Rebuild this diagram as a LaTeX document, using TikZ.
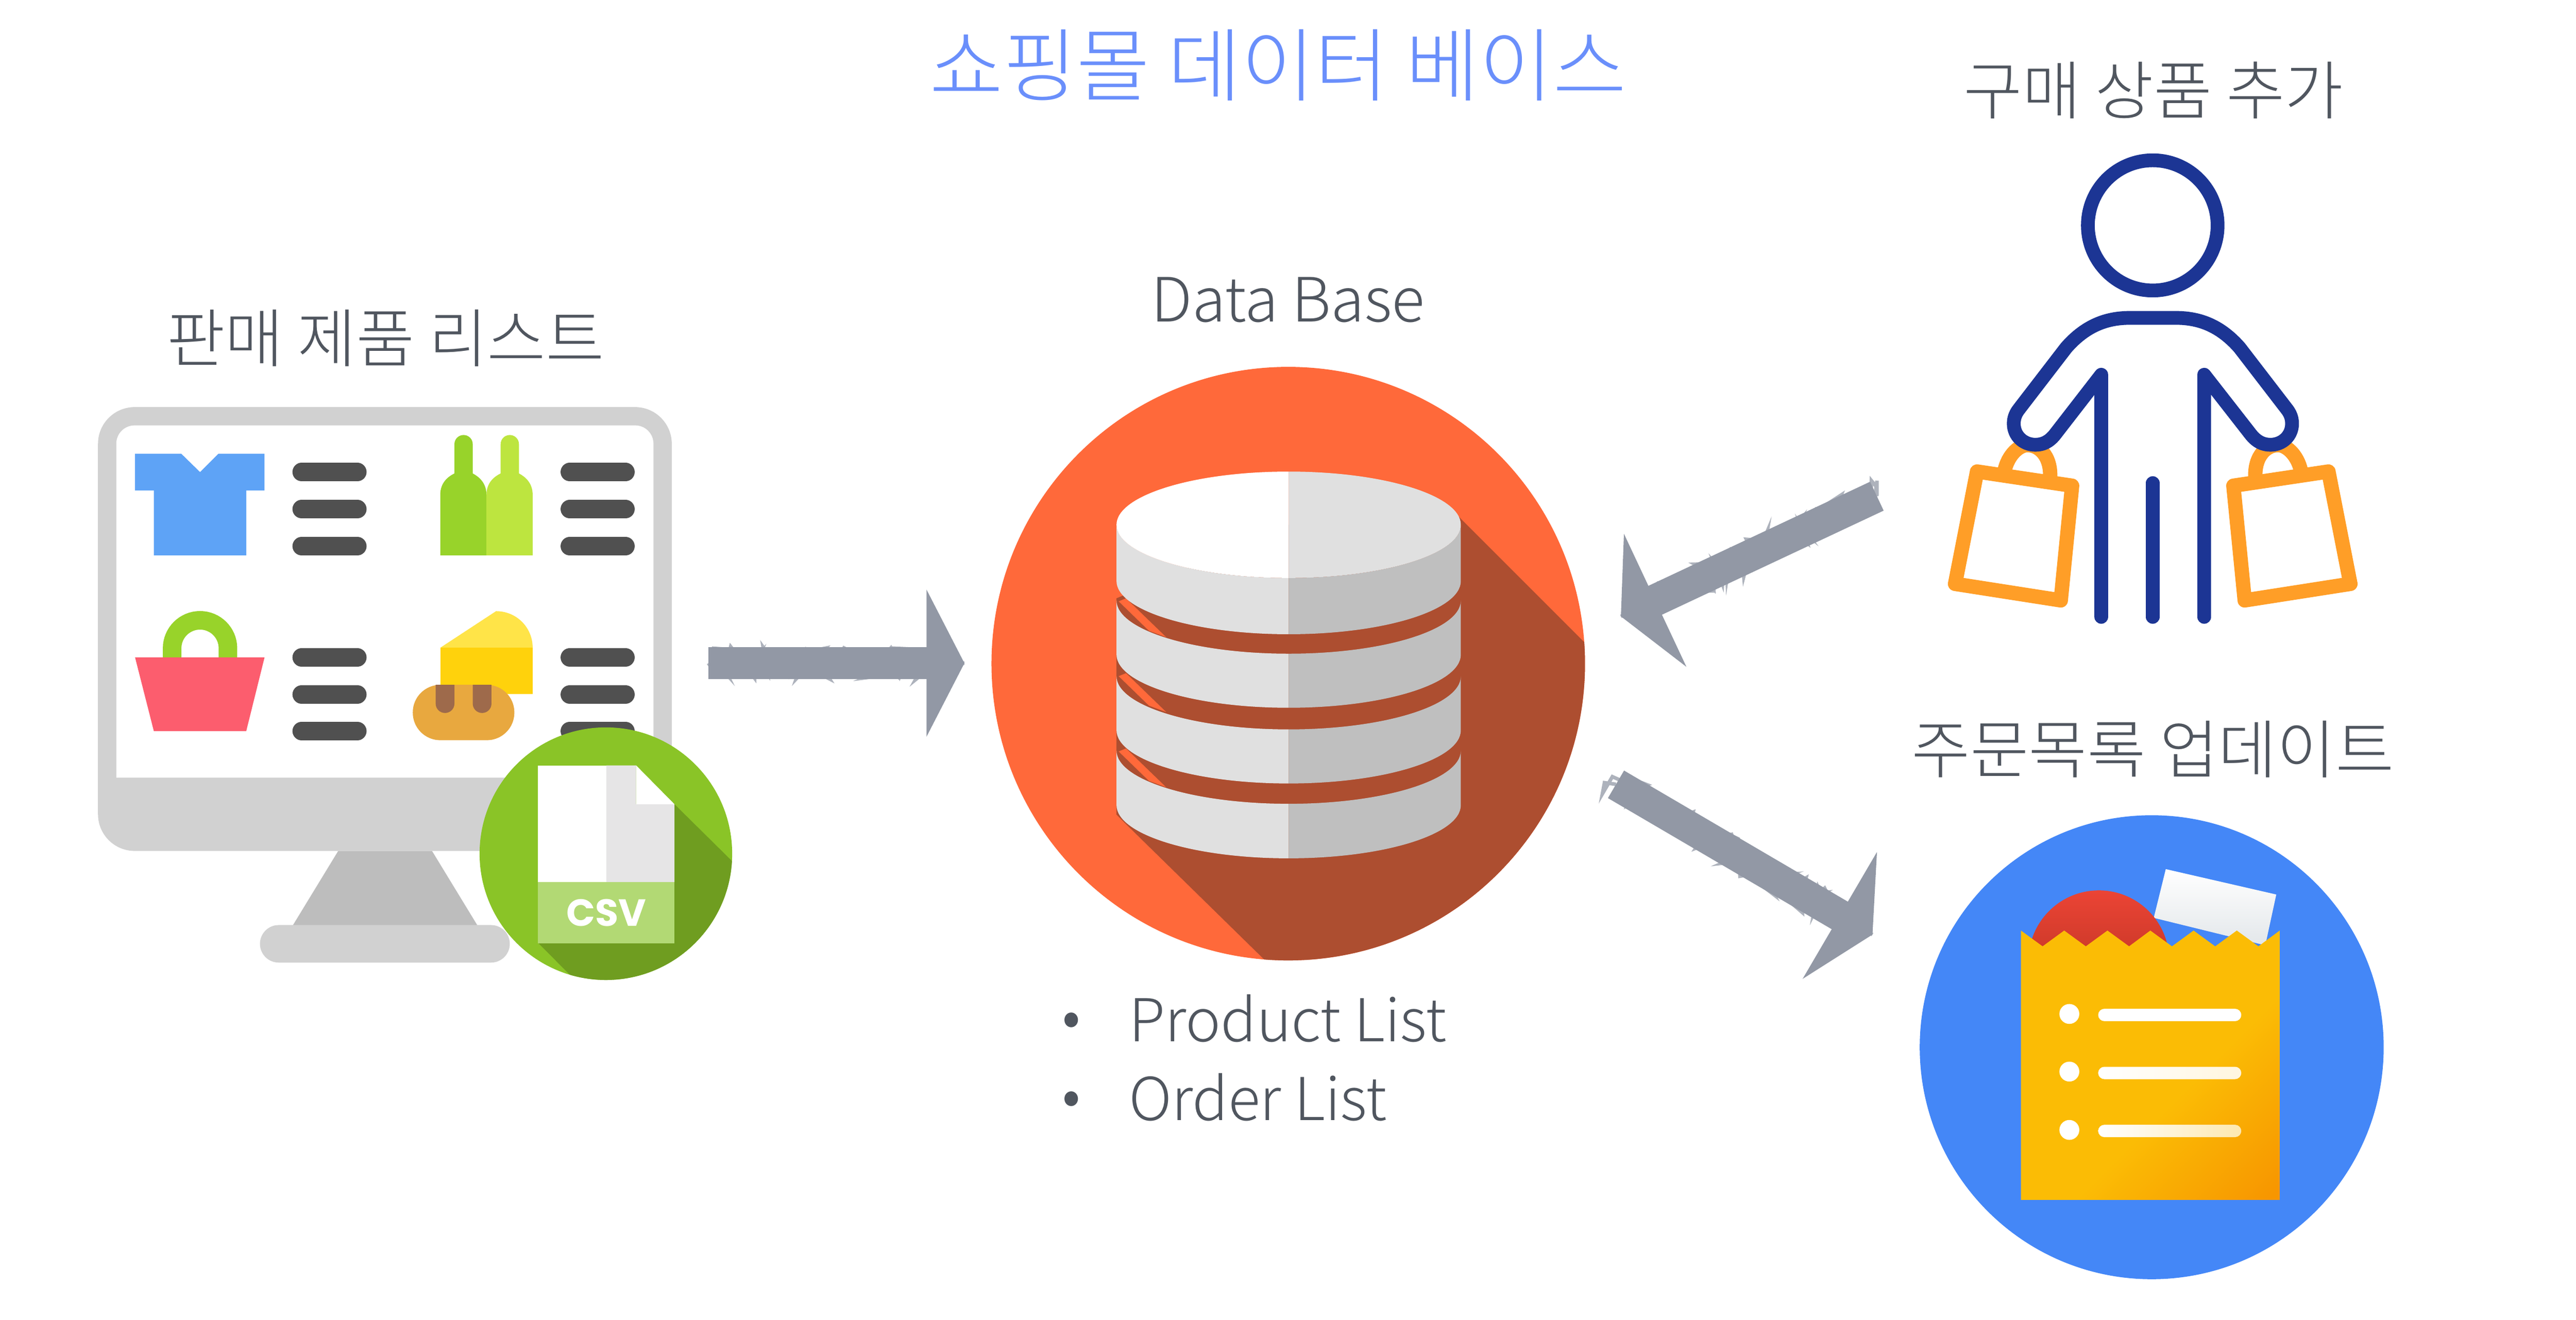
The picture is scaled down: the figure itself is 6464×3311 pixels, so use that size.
\documentclass[tikz,border=0pt]{standalone}
\usepackage{fontspec}
\setmainfont{Noto Sans CJK KR Light}
\newfontfamily\csvfont{Poppins}[BoldFont=* Bold]
\usetikzlibrary{arrows.meta,decorations.pathmorphing}
\definecolor{labelgray}{HTML}{50565F}
\definecolor{titleblue}{HTML}{6A8FFB}
\definecolor{sketchgray}{HTML}{9298A5}
\definecolor{monitorgray}{HTML}{D1D1D1}
\definecolor{standgray}{HTML}{BDBDBD}
\definecolor{bargray}{HTML}{505050}
\definecolor{shirtblue}{HTML}{5EA3F6}
\definecolor{bottlegreen}{HTML}{98D32A}
\definecolor{bottlelime}{HTML}{BDE53F}
\definecolor{basketred}{HTML}{FC5D6E}
\definecolor{cheesetop}{HTML}{FFE448}
\definecolor{cheesefront}{HTML}{FFD20C}
\definecolor{breadtan}{HTML}{E8A83F}
\definecolor{breadmark}{HTML}{9E6A4B}
\definecolor{csvgreen}{HTML}{8AC427}
\definecolor{csvshadow}{HTML}{6F9D20}
\definecolor{csvband}{HTML}{B2D974}
\definecolor{csvpage}{HTML}{E6E5E6}
\definecolor{dborange}{HTML}{FF693A}
\definecolor{dbshadow}{HTML}{AD4E30}
\definecolor{disklight}{HTML}{E0E0E0}
\definecolor{diskdark}{HTML}{BFBFBF}
\definecolor{shopperblue}{HTML}{1C3594}
\definecolor{bagorange}{HTML}{FF9E27}
\definecolor{orderblue}{HTML}{4487F7}
\definecolor{orderyellow}{HTML}{FBBC05}
\definecolor{orderdeep}{HTML}{F79600}
\definecolor{paperedge}{HTML}{E3E7EA}
\definecolor{domered}{HTML}{EB4435}
\definecolor{domedark}{HTML}{AA2D1C}
\definecolor{linefade}{HTML}{FDE8B0}
\definecolor{linefadeb}{HTML}{FFF6DF}
\pgfdeclareverticalshading{ordershade}{100bp}{color(0bp)=(orderdeep); color(16bp)=(orderdeep); color(42bp)=(orderyellow); color(100bp)=(orderyellow)}
\tikzset{
	monitorview/.style={shift={(200,700)},x=0.01148cm,y=-0.01148cm},
	dbview/.style={shift={(2400,850)},x=0.010842cm,y=-0.010842cm},
	shopperview/.style={shift={(4750,350)},x=0.00861cm,y=-0.00829cm},
	orderview/.style={shift={(4750,1950)},x=0.00861cm,y=-0.00861cm},
	bigtext/.style={text=labelgray,font=\fontsize{45.4}{45.4}\selectfont,inner sep=0},
	smalltext/.style={text=labelgray,font=\fontsize{42.2}{42.2}\selectfont,inner sep=0,anchor=west},
	iconarea/.style={inner sep=0,outer sep=0},
	barline/.style={bargray,line width=0.459cm,line cap=round},
	shopperline/.style={shopperblue,line width=0.345cm,line cap=round,line join=round},
	bagline/.style={bagorange,line width=0.36cm,line cap=round,line join=round},
	sketcharrow/.style={sketchgray,line width=0.8cm,-{Triangle[width=3.65cm,length=0.95cm]},
		preaction={draw=sketchgray,-,line width=0.09cm,opacity=0.75,decorate,
			decoration={random steps,segment length=0.07cm,amplitude=0.42cm,post length=1cm,post=lineto}}},
}
\begin{document}
\begin{tikzpicture}[x=0.01cm,y=-0.01cm]
	\useasboundingbox (0,0) rectangle (6464,3311);
	\pgfmathsetseed{42}
	% labels
	\node	(title) at (3207,163) [text=titleblue,font=\fontsize{57}{57}\selectfont,inner sep=0] {쇼핑몰 데이터 베이스};
	\node	(listlabel) at (967,849) [bigtext] {판매 제품 리스트};
	\node	(dblabel) at (3232,752) [bigtext,font=\fontsize{43.6}{43.6}\selectfont] {Data Base};
	\node	(shopperlabel) at (5404,227) [bigtext] {구매 상품 추가};
	\node	(orderlabel) at (5402,1880) [bigtext] {주문목록 업데이트};
	\node	(bullet1) at (2688,2572) [smalltext,anchor=center] {•};
	\node	(bullet2) at (2688,2770) [smalltext,anchor=center] {•};
	\node	(item1) at (2832,2555) [smalltext] {Product List};
	\node	(item2) at (2832,2753) [smalltext] {Order List};
	% where the arrows attach
	\node	(monitor) at (966,1664) [iconarea,minimum width=16.22cm,minimum height=14cm] {};
	\node	(db) at (3232,1664) [iconarea,circle,minimum size=16.86cm] {};
	\node	(shopper) at (5404,1245) [iconarea,minimum width=13.88cm,minimum height=7.8cm] {};
	\node	(order) at (5399,2628) [iconarea,circle,minimum size=15.1cm] {};
	\coordinate (dbleft) at (2420,1664);
	\coordinate (dbright) at (4055,1968);

	% monitor with the product list
	\begin{scope}[monitorview]
		\fill[standgray] (565,1250) -- (770,1250) -- (870,1414) -- (465,1414) -- cycle;
		\fill[monitorgray,rounded corners=0.47cm] (394,1412) rectangle (940,1494);
		\fill[monitorgray,rounded corners=0.92cm] (40,280) rectangle (1294,1250);
		\fill[white] (80,1090) [rounded corners=0.46cm] -- (80,320) -- (1254,320) [sharp corners] -- (1254,1090) -- cycle;
		\foreach \x in {485,1071}
			\foreach \y in {422,503,584,827,908,988}
				\draw[barline] (\x,\y) -- (\x+122,\y);
		% shirt
		\fill[shirtblue] (121,382) -- (222,382) -- (263,422) -- (303,382) -- (404,382) -- (404,462) -- (364,462) -- (364,604) -- (162,604) -- (162,462) -- (121,462) -- cycle;
		% bottles
		\fill[bottlegreen] (788,604) -- (788,472) .. controls (788,445) and (805,432) .. (819,425) -- (819,361) arc[start angle=180,end angle=360,radius=20] -- (859,425) .. controls (872,432) and (889,445) .. (889,472) -- (889,604) -- cycle;
		\fill[bottlelime] (889,604) -- (889,472) .. controls (889,445) and (906,432) .. (920,425) -- (920,361) arc[start angle=180,end angle=360,radius=20] -- (960,425) .. controls (973,432) and (990,445) .. (990,472) -- (990,604) -- cycle;
		% bag
		\draw[bottlegreen,line width=0.465cm] (202,827) -- (202,807) arc[start angle=180,end angle=360,radius=61] -- (324,827);
		\fill[basketred] (121,827) -- (404,827) -- (364,988) -- (162,988) -- cycle;
		% cheese and bread
		\fill[cheesetop] (788,806) -- (910,726) .. controls (955,726) and (990,762) .. (990,806) -- cycle;
		\fill[cheesefront] (788,806) rectangle (990,907);
		\fill[breadtan,rounded corners=0.69cm] (728,887) rectangle (950,1008);
		\foreach \x in {778,859}
			\fill[breadmark] (\x,887) -- (\x,928) arc[start angle=180,end angle=0,radius=20.5] -- (\x+41,887) -- cycle;
		% csv badge
		\fill[csvgreen] (1150,1256) circle[radius=276];
		\begin{scope}
			\clip (1150,1256) circle[radius=276];
			\fill[csvshadow] (1300,1148) -- (1550,1395) -- (1550,1600) -- (1150,1600) -- (1003,1452) -- cycle;
		\end{scope}
		\fill[white] (1001,1063) rectangle (1151,1318);
		\fill[csvpage] (1151,1063) -- (1216,1063) -- (1216,1148) -- (1300,1148) -- (1300,1318) -- (1151,1318) -- cycle;
		\fill[white] (1216,1063) -- (1300,1148) -- (1216,1148) -- cycle;
		\fill[csvband] (1001,1318) rectangle (1300,1452);
		\node	(csvtext) at (1151,1385) [text=white,inner sep=0,font=\csvfont\bfseries\fontsize{27}{27}\selectfont] {CSV};
	\end{scope}

	% database
	\begin{scope}[dbview]
		\fill[dborange] (767,751) circle[radius=686];
		\begin{scope}
			\clip (767,751) circle[radius=686];
			\fill[dbshadow] (1155,405) -- (1500,750) -- (1500,1600) -- (880,1600) -- (390,1120) -- (370,1100) -- (370,600) -- (768,430) -- cycle;
		\end{scope}
		\foreach \y in {0,173,347}
			\fill[dborange] (375,607+\y) -- (392,600+\y) -- (485,690+\y) -- (445,675+\y) -- cycle;
		\foreach \top/\bot in {430/560,605/730,780/905,952/1078} {
			\fill[disklight] (370,\top) arc[start angle=180,end angle=90,x radius=398,y radius=123] -- (768,\bot+123) arc[start angle=90,end angle=180,x radius=398,y radius=123] -- cycle;
			\fill[diskdark] (768,\top+123) arc[start angle=90,end angle=0,x radius=398,y radius=123] -- (1166,\bot) arc[start angle=0,end angle=90,x radius=398,y radius=123] -- cycle;
		}
		\fill[white] (768,307) arc[start angle=270,end angle=90,x radius=398,y radius=123] -- cycle;
		\fill[disklight] (768,307) arc[start angle=-90,end angle=90,x radius=398,y radius=123] -- cycle;
	\end{scope}

	% shopper
	\begin{scope}[shopperview]
		\draw[bagline] (323,1015) .. controls (330,960) and (365,925) .. (392,925) .. controls (430,925) and (465,965) .. (457,1035);
		\draw[bagline] (1191,1015) .. controls (1184,960) and (1149,925) .. (1122,925) .. controls (1084,925) and (1049,965) .. (1057,1035);
		\draw[bagline] (245,1005) -- (522,1048) -- (489,1395) -- (181,1345) -- cycle;
		\draw[bagline] (1269,1005) -- (992,1048) -- (1025,1395) -- (1333,1345) -- cycle;
		\draw[shopperline] (757,260) circle[x radius=189,y radius=197];
		\draw[shopperline] (757,1040) -- (757,1445);
		\draw[shopperline] (607,1445) -- (607,712) -- (472,893) .. controls (455,915) and (437,924) .. (415,924) .. controls (380,924) and (352,897) .. (352,860) .. controls (352,842) and (358,828) .. (368,815) -- (505,630) .. controls (560,565) and (620,540) .. (690,540) -- (825,540) .. controls (895,540) and (955,565) .. (1010,630) -- (1147,815) .. controls (1157,828) and (1163,842) .. (1163,860) .. controls (1163,897) and (1135,924) .. (1100,924) .. controls (1078,924) and (1060,915) .. (1043,893) -- (907,712) -- (907,1445);
	\end{scope}

	% order bag
	\begin{scope}[orderview]
		\fill[orderblue] (754,787) circle[radius=676];
		\shade[top color=white,middle color=white,bottom color=paperedge] (795,268) -- (1117,342) -- (1085,490) -- (760,410) -- cycle;
		\shade[top color=domered,bottom color=domedark] (600,535) circle[radius=205];
		\shade[shading=ordershade,shading angle=45] (373,447) -- (436,493) -- (499,447) -- (562,493) -- (625,447) -- (688,493) -- (750,447) -- (813,493) -- (876,447) -- (939,493) -- (1002,447) -- (1065,493) -- (1127,447) -- (1127,1232) -- (373,1232) -- cycle;
		\foreach \y in {690,858,1028}
			\fill[white] (514,\y) circle[radius=29];
		\fill[white,rounded corners=0.155cm] (598,675) rectangle (1015,711);
		\shade[left color=white,middle color=white,right color=linefadeb,rounded corners=0.155cm] (598,844) rectangle (1015,880);
		\shade[left color=white,right color=linefade,rounded corners=0.155cm] (598,1013) rectangle (1015,1049);
	\end{scope}

	\draw
	(monitor) edge[sketcharrow] (dbleft)
	(shopper.west) edge[sketcharrow] (db.8.2)
	(dbright) edge[sketcharrow] (order.158)
	;
\end{tikzpicture}
\end{document}
